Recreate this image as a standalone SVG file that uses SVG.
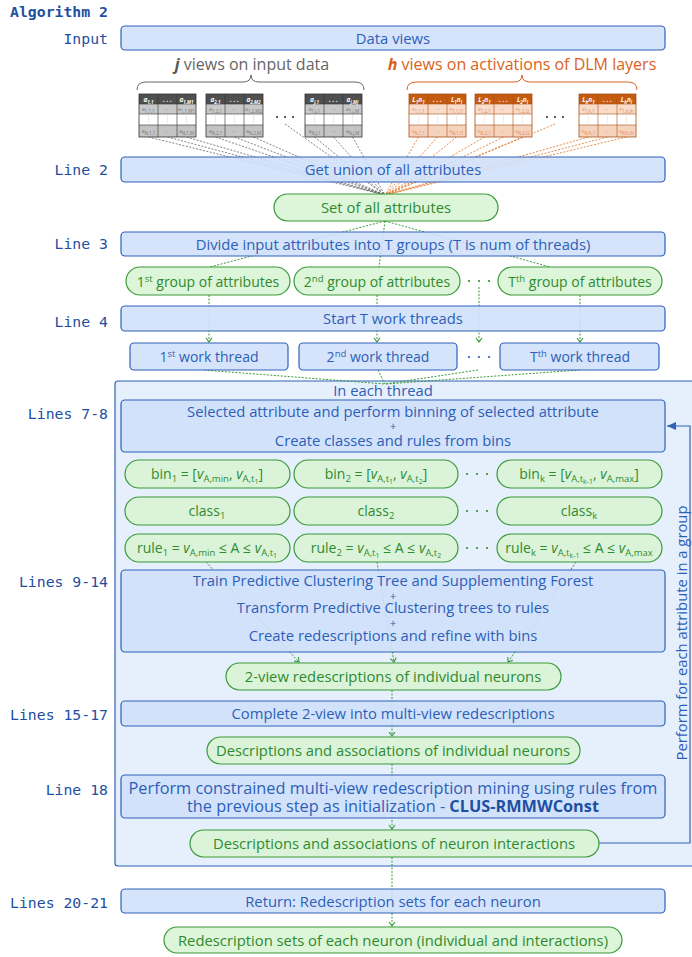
<svg xmlns="http://www.w3.org/2000/svg" width="692" height="957" viewBox="0 0 692 957">
<style>
.lbl{font-family:"DejaVu Sans Mono",monospace;font-size:14.8px;fill:#1f4fa0;text-anchor:end}
.ttl{font-family:"DejaVu Sans Mono",monospace;font-size:14.8px;font-weight:bold;fill:#1f4fa0}
.box{fill:#cfe0fb;fill-opacity:0.88;stroke:#2f62b8;stroke-width:1.2}
.pill{fill:#d9f4d5;fill-opacity:0.9;stroke:#3a9a3a;stroke-width:1.2}
.bt{font-family:"Open Sans",sans-serif;font-size:14.8px;fill:#2d5fb8;text-anchor:middle}
.gt{font-family:"Open Sans",sans-serif;font-size:14.8px;fill:#2e8b2e;text-anchor:middle}
.gs{font-size:14px}
.pl{font-size:11.5px}
.big{font-size:16.3px}
.gl{stroke:#3a9a3a;stroke-width:1;stroke-dasharray:2 1.5;fill:none}
.gyl{stroke:#666;stroke-width:0.8;stroke-dasharray:2 1.5;fill:none}
.orl{stroke:#e07020;stroke-width:0.8;stroke-dasharray:2 1.5;fill:none}
.sb{baseline-shift:-3px;font-size:9.5px}
.sb2{baseline-shift:-2px;font-size:7px}
.sp{baseline-shift:5px;font-size:9.5px}
.it{font-style:italic}
.th{font-family:"Open Sans",sans-serif;font-size:6.5px;font-weight:bold;font-style:italic;fill:#fff;text-anchor:middle}
.tc{font-family:"Open Sans",sans-serif;font-size:5px;fill:#777;text-anchor:middle}
.tco{font-family:"Open Sans",sans-serif;font-size:5px;fill:#e08a5a;text-anchor:middle}
.ts{font-size:4.5px;baseline-shift:-1.5px}
.dot{fill:#333}
.gdot{fill:#2e8b2e}
</style>
<defs>
<marker id="ga" markerWidth="8" markerHeight="8" refX="5" refY="3.5" orient="auto" markerUnits="userSpaceOnUse" viewBox="0 0 8 7">
<path d="M1,0.5 L5,3.5 L1,6.5" fill="none" stroke="#3a9a3a" stroke-width="1.1"/>
</marker>
<marker id="ba" markerWidth="10" markerHeight="10" refX="9" refY="5" orient="auto" markerUnits="userSpaceOnUse" viewBox="0 0 10 10">
<path d="M0,1 L9,5 L0,9 Z" fill="#2f62b8"/>
</marker>
<g id="jgrid">
<rect x="0" y="0" width="57" height="10" fill="#4f4f4f"/>
<rect x="0" y="10" width="57" height="10" fill="#c8c8c8"/>
<rect x="0" y="20" width="57" height="11" fill="#ffffff"/>
<rect x="0" y="31" width="57" height="12" fill="#c4c4c4"/>
<path d="M19,0V43M38,0V43M0,10H57M0,20H57M0,31H57" stroke="#333" stroke-width="0.6"/>
<rect x="0" y="0" width="57" height="43" fill="none" stroke="#333" stroke-width="0.8"/>
<path d="M9.5,22V30M28.5,22V30M47.5,22V30" stroke="#999" stroke-width="0.6" stroke-dasharray="0.8 1.8"/>
<text x="28.5" y="7.5" class="th">. . .</text>
<text x="28.5" y="17" class="tc">···</text>
<text x="28.5" y="39" class="tc">···</text>
</g>
<g id="hgrid">
<rect x="0" y="0" width="57" height="10" fill="#c55a11"/>
<rect x="0" y="10" width="57" height="10" fill="#f9dcc9"/>
<rect x="0" y="20" width="57" height="11" fill="#ffffff"/>
<rect x="0" y="31" width="57" height="12" fill="#f6d3bd"/>
<path d="M19,0V43M38,0V43M0,10H57M0,20H57M0,31H57" stroke="#a8521a" stroke-width="0.6"/>
<rect x="0" y="0" width="57" height="43" fill="none" stroke="#a8521a" stroke-width="0.8"/>
<path d="M9.5,22V30M28.5,22V30M47.5,22V30" stroke="#d9a080" stroke-width="0.6" stroke-dasharray="0.8 1.8"/>
<text x="28.5" y="7.5" class="th">. . .</text>
<text x="28.5" y="17" class="tco">···</text>
<text x="28.5" y="39" class="tco">···</text>
</g>
</defs>

<g id="labels">
<text x="10" y="17" class="ttl">Algorithm 2</text>
<text x="108" y="44" class="lbl">Input</text>
<text x="108" y="175" class="lbl">Line 2</text>
<text x="108" y="249" class="lbl">Line 3</text>
<text x="108" y="327" class="lbl">Line 4</text>
<text x="108" y="419" class="lbl">Lines 7-8</text>
<text x="108" y="587" class="lbl">Lines 9-14</text>
<text x="108" y="720" class="lbl">Lines 15-17</text>
<text x="108" y="795" class="lbl">Line 18</text>
<text x="108" y="908" class="lbl">Lines 20-21</text>
</g>

<g id="thread-container">
<rect x="115" y="381" width="600" height="485" rx="3" fill="#e6effc" stroke="#2f62b8" stroke-width="1.2"/>
<text x="383" y="396" class="bt">In each thread</text>
</g>

<g id="connectors">
<path class="gyl" d="M148.5,137L385,195M167.5,137L385,195M186.5,137L385,195M215.5,137L385,195M234.5,137L385,195M253.5,137L385,195M285,124L385,195M314.5,137L385,195M333.5,137L385,195M352.5,137L385,195"/>
<path class="orl" d="M418.5,137L385,195M437.5,137L385,195M456.5,137L385,195M484.5,137L385,195M503.5,137L385,195M522.5,137L385,195M555,124L385,195M588.5,137L385,195M607.5,137L385,195M626.5,137L385,195"/>
<path class="gl" d="M385,221L210,267M385,221L379,267M385,221L550,267"/>
<path class="gl" d="M209,295V342" marker-end="url(#ga)"/>
<path class="gl" d="M377,295V342" marker-end="url(#ga)"/>
<path class="gl" d="M479,287V342" marker-end="url(#ga)"/>
<path class="gl" d="M580,295V342" marker-end="url(#ga)"/>
<path class="gl" d="M204,370L385,384M378,370L385,384M478,370L385,384M580,370L385,384"/>
<path class="gl" d="M206,562L299,662" marker-end="url(#ga)"/>
<path class="gl" d="M377,562L394,662" marker-end="url(#ga)"/>
<path class="gl" d="M576,562L508,662" marker-end="url(#ga)"/>
<path class="gl" d="M392,690V736" marker-end="url(#ga)"/>
<path class="gl" d="M392,764V829" marker-end="url(#ga)"/>
<path class="gl" d="M392,857V926" marker-end="url(#ga)"/>
<path d="M599,843H690V426H667" fill="none" stroke="#2f62b8" stroke-width="1.2" marker-end="url(#ba)"/>
</g>

<g id="n-data-views">
<rect class="box" x="121" y="26" width="544" height="24" rx="4"/>
<text x="393" y="43.5" class="bt">Data views</text>
</g>

<g id="n-input-tables">
<path d="M137,90 Q137,82 146,82 L243,82 Q251,82 251,75 Q251,82 259,82 L355,82 Q364,82 364,90" fill="none" stroke="#666" stroke-width="1"/>
<text x="252" y="70" font-family="Open Sans,sans-serif" font-size="16" fill="#666" text-anchor="middle"><tspan font-weight="bold" font-style="italic" fill="#555">j</tspan> views on input data</text>
<use href="#jgrid" x="139" y="94"/>
<use href="#jgrid" x="206" y="94"/>
<use href="#jgrid" x="305" y="94"/>
<text x="148.5" y="101.5" class="th">a<tspan class="ts">1,1</tspan></text>
<text x="186.5" y="101.5" class="th">a<tspan class="ts">1,M1</tspan></text>
<text x="148.5" y="111" class="tc">a<tspan class="ts">1,1,1</tspan></text>
<text x="186.5" y="111" class="tc">a<tspan class="ts">1,1,M1</tspan></text>
<text x="148.5" y="133" class="tc">a<tspan class="ts">N,1,1</tspan></text>
<text x="186.5" y="133" class="tc">a<tspan class="ts">N,1,M</tspan></text>
<text x="215.5" y="101.5" class="th">a<tspan class="ts">2,1</tspan></text>
<text x="253.5" y="101.5" class="th">a<tspan class="ts">2,M2</tspan></text>
<text x="215.5" y="111" class="tc">a<tspan class="ts">1,2,1</tspan></text>
<text x="253.5" y="111" class="tc">a<tspan class="ts">1,2,M2</tspan></text>
<text x="215.5" y="133" class="tc">a<tspan class="ts">N,2,1</tspan></text>
<text x="253.5" y="133" class="tc">a<tspan class="ts">N,2,M</tspan></text>
<text x="314.5" y="101.5" class="th">a<tspan class="ts">j,1</tspan></text>
<text x="352.5" y="101.5" class="th">a<tspan class="ts">j,Mj</tspan></text>
<text x="314.5" y="111" class="tc">a<tspan class="ts">1,j,1</tspan></text>
<text x="352.5" y="111" class="tc">a<tspan class="ts">1,j,M</tspan></text>
<text x="314.5" y="133" class="tc">a<tspan class="ts">N,j,1</tspan></text>
<text x="352.5" y="133" class="tc">a<tspan class="ts">N,j,M</tspan></text>
<circle class="dot" cx="277" cy="117" r="1.1"/><circle class="dot" cx="285" cy="117" r="1.1"/><circle class="dot" cx="293" cy="117" r="1.1"/>
</g>

<g id="n-activation-tables">
<path d="M407,90 Q407,82 416,82 L514,82 Q522,82 522,75 Q522,82 530,82 L628,82 Q637,82 637,90" fill="none" stroke="#d9621a" stroke-width="1"/>
<text x="522" y="70" font-family="Open Sans,sans-serif" font-size="16" fill="#d9621a" text-anchor="middle"><tspan font-weight="bold" font-style="italic">h</tspan> views on activations of DLM layers</text>
<use href="#hgrid" x="409" y="94"/>
<use href="#hgrid" x="475" y="94"/>
<use href="#hgrid" x="579" y="94"/>
<text x="418.5" y="101.5" class="th">L<tspan class="ts">1</tspan>n<tspan class="ts">1</tspan></text>
<text x="456.5" y="101.5" class="th">L<tspan class="ts">1</tspan>n<tspan class="ts">l</tspan></text>
<text x="418.5" y="111" class="tco">v<tspan class="ts">1,1,1</tspan></text>
<text x="456.5" y="111" class="tco">v<tspan class="ts">1,1,l1</tspan></text>
<text x="418.5" y="133" class="tco">v<tspan class="ts">N,1,1</tspan></text>
<text x="456.5" y="133" class="tco">v<tspan class="ts">N,1,l1</tspan></text>
<text x="484.5" y="101.5" class="th">L<tspan class="ts">2</tspan>n<tspan class="ts">1</tspan></text>
<text x="522.5" y="101.5" class="th">L<tspan class="ts">2</tspan>n<tspan class="ts">l</tspan></text>
<text x="484.5" y="111" class="tco">v<tspan class="ts">1,2,1</tspan></text>
<text x="522.5" y="111" class="tco">v<tspan class="ts">1,2,l2</tspan></text>
<text x="484.5" y="133" class="tco">v<tspan class="ts">N,2,1</tspan></text>
<text x="522.5" y="133" class="tco">v<tspan class="ts">N,2,l2</tspan></text>
<text x="588.5" y="101.5" class="th">L<tspan class="ts">h</tspan>n<tspan class="ts">1</tspan></text>
<text x="626.5" y="101.5" class="th">L<tspan class="ts">h</tspan>n<tspan class="ts">l</tspan></text>
<text x="588.5" y="111" class="tco">v<tspan class="ts">1,h,1</tspan></text>
<text x="626.5" y="111" class="tco">v<tspan class="ts">1,h,lh</tspan></text>
<text x="588.5" y="133" class="tco">v<tspan class="ts">N,h,1</tspan></text>
<text x="626.5" y="133" class="tco">v<tspan class="ts">N,h,lh</tspan></text>
<circle class="dot" cx="547" cy="117" r="1.1"/><circle class="dot" cx="555" cy="117" r="1.1"/><circle class="dot" cx="563" cy="117" r="1.1"/>
</g>

<g id="n-union">
<rect class="box" x="121" y="157" width="544" height="25" rx="4"/>
<text x="393" y="175" class="bt">Get union of all attributes</text>
</g>
<g id="n-set-all">
<rect class="pill" x="274" y="194" width="224" height="27" rx="13.5"/>
<text x="386" y="213" class="gt">Set of all attributes</text>
</g>
<g id="n-divide">
<rect class="box" x="121" y="232" width="544" height="24" rx="4"/>
<text x="393" y="249.5" class="bt">Divide input attributes into T groups (T is num of threads)</text>
</g>
<g id="n-group1">
<rect class="pill" x="126" y="267" width="164" height="28" rx="14"/>
<text x="208" y="286.5" class="gt gs">1<tspan class="sp">st</tspan> group of attributes</text>
</g>
<g id="n-group2">
<rect class="pill" x="294" y="267" width="166" height="28" rx="14"/>
<text x="377" y="286.5" class="gt gs">2<tspan class="sp">nd</tspan> group of attributes</text>
</g>
<g id="n-groupT">
<rect class="pill" x="498" y="267" width="164" height="28" rx="14"/>
<text x="580" y="286.5" class="gt gs">T<tspan class="sp">th</tspan> group of attributes</text>
</g>
<g id="dots-groups"><circle class="gdot" cx="469" cy="281" r="1.1"/><circle class="gdot" cx="479" cy="281" r="1.1"/><circle class="gdot" cx="489" cy="281" r="1.1"/></g>

<g id="n-start">
<rect class="box" x="121" y="306" width="544" height="25" rx="4"/>
<text x="393" y="324" class="bt">Start T work threads</text>
</g>
<g id="n-thread1">
<rect class="box" x="130" y="343" width="158" height="27" rx="4"/>
<text x="209" y="362" class="bt gs">1<tspan class="sp">st</tspan> work thread</text>
</g>
<g id="n-thread2">
<rect class="box" x="299" y="343" width="158" height="27" rx="4"/>
<text x="378" y="362" class="bt gs">2<tspan class="sp">nd</tspan> work thread</text>
</g>
<g id="n-threadT">
<rect class="box" x="500" y="343" width="159" height="27" rx="4"/>
<text x="580" y="362" class="bt gs">T<tspan class="sp">th</tspan> work thread</text>
</g>
<g id="dots-threads"><circle fill="#2d5fb8" cx="469" cy="357" r="1.1"/><circle fill="#2d5fb8" cx="479" cy="357" r="1.1"/><circle fill="#2d5fb8" cx="489" cy="357" r="1.1"/></g>

<g id="n-select">
<rect class="box" x="121" y="400" width="544" height="52" rx="4"/>
<text class="bt"><tspan x="393" y="416.5">Selected attribute and perform binning of selected attribute</tspan><tspan x="393" y="429.5" class="pl">+</tspan><tspan x="393" y="446">Create classes and rules from bins</tspan></text>
</g>

<g id="n-bin1">
<rect class="pill" x="125" y="460" width="165" height="28" rx="14"/>
<text x="207" y="479" class="gt gs">bin<tspan class="sb">1</tspan> = [<tspan class="it">v</tspan><tspan class="sb">A,min</tspan>, <tspan class="it">v</tspan><tspan class="sb">A,t<tspan class="sb2">1</tspan></tspan>]</text>
</g>
<g id="n-bin2">
<rect class="pill" x="294" y="460" width="164" height="28" rx="14"/>
<text x="376" y="479" class="gt gs">bin<tspan class="sb">2</tspan> = [<tspan class="it">v</tspan><tspan class="sb">A,t<tspan class="sb2">1</tspan></tspan>, <tspan class="it">v</tspan><tspan class="sb">A,t<tspan class="sb2">2</tspan></tspan>]</text>
</g>
<g id="n-bink">
<rect class="pill" x="497" y="460" width="165" height="28" rx="14"/>
<text x="579" y="479" class="gt gs">bin<tspan class="sb">k</tspan> = [<tspan class="it">v</tspan><tspan class="sb">A,t<tspan class="sb2">k-1</tspan></tspan>, <tspan class="it">v</tspan><tspan class="sb">A,max</tspan>]</text>
</g>
<g id="dots-bins"><circle class="gdot" cx="467" cy="474" r="1.1"/><circle class="gdot" cx="477" cy="474" r="1.1"/><circle class="gdot" cx="487" cy="474" r="1.1"/></g>

<g id="n-class1">
<rect class="pill" x="125" y="497" width="165" height="28" rx="14"/>
<text x="207" y="516" class="gt gs">class<tspan class="sb">1</tspan></text>
</g>
<g id="n-class2">
<rect class="pill" x="294" y="497" width="164" height="28" rx="14"/>
<text x="376" y="516" class="gt gs">class<tspan class="sb">2</tspan></text>
</g>
<g id="n-classk">
<rect class="pill" x="497" y="497" width="165" height="28" rx="14"/>
<text x="579" y="516" class="gt gs">class<tspan class="sb">k</tspan></text>
</g>
<g id="dots-classes"><circle class="gdot" cx="467" cy="511" r="1.1"/><circle class="gdot" cx="477" cy="511" r="1.1"/><circle class="gdot" cx="487" cy="511" r="1.1"/></g>

<g id="n-rule1">
<rect class="pill" x="125" y="534" width="165" height="28" rx="14"/>
<text x="207" y="553" class="gt gs">rule<tspan class="sb">1</tspan> = <tspan class="it">v</tspan><tspan class="sb">A,min</tspan> ≤ A ≤ <tspan class="it">v</tspan><tspan class="sb">A,t<tspan class="sb2">1</tspan></tspan></text>
</g>
<g id="n-rule2">
<rect class="pill" x="294" y="534" width="164" height="28" rx="14"/>
<text x="376" y="553" class="gt gs">rule<tspan class="sb">2</tspan> = <tspan class="it">v</tspan><tspan class="sb">A,t<tspan class="sb2">1</tspan></tspan> ≤ A ≤ <tspan class="it">v</tspan><tspan class="sb">A,t<tspan class="sb2">2</tspan></tspan></text>
</g>
<g id="n-rulek">
<rect class="pill" x="497" y="534" width="165" height="28" rx="14"/>
<text x="579" y="553" class="gt gs">rule<tspan class="sb">k</tspan> = <tspan class="it">v</tspan><tspan class="sb">A,t<tspan class="sb2">k-1</tspan></tspan> ≤ A ≤ <tspan class="it">v</tspan><tspan class="sb">A,max</tspan></text>
</g>
<g id="dots-rules"><circle class="gdot" cx="467" cy="548" r="1.1"/><circle class="gdot" cx="477" cy="548" r="1.1"/><circle class="gdot" cx="487" cy="548" r="1.1"/></g>

<g id="n-train">
<rect class="box" x="121" y="570" width="544" height="82" rx="4"/>
<text class="bt"><tspan x="393" y="586">Train Predictive Clustering Tree and Supplementing Forest</tspan><tspan x="393" y="599.5" class="pl">+</tspan><tspan x="393" y="613">Transform Predictive Clustering trees to rules</tspan><tspan x="393" y="626.5" class="pl">+</tspan><tspan x="393" y="641">Create redescriptions and refine with bins</tspan></text>
</g>
<g id="n-2view">
<rect class="pill" x="226" y="663" width="335" height="27" rx="13.5"/>
<text x="393" y="682" class="gt">2-view redescriptions of individual neurons</text>
</g>
<g id="n-complete">
<rect class="box" x="121" y="701" width="544" height="25" rx="4"/>
<text x="393" y="719" class="bt">Complete 2-view into multi-view redescriptions</text>
</g>
<g id="n-desc-ind">
<rect class="pill" x="207" y="737" width="373" height="27" rx="13.5"/>
<text x="393" y="756" class="gt">Descriptions and associations of individual neurons</text>
</g>
<g id="n-perform">
<rect class="box" x="121" y="775" width="544" height="43" rx="4"/>
<text class="bt big"><tspan x="393" y="794">Perform constrained multi-view redescription mining using rules from</tspan><tspan x="393" y="812">the previous step as initialization - <tspan font-weight="bold" fill="#1f4fa0">CLUS-RMMWConst</tspan></tspan></text>
</g>
<g id="n-desc-int">
<rect class="pill" x="190" y="830" width="409" height="27" rx="13.5"/>
<text x="394" y="849" class="gt">Descriptions and associations of neuron interactions</text>
</g>
<g id="loop-label">
<text x="687" y="633" class="bt" transform="rotate(-90 687 633)">Perform for each attribute in a group</text>
</g>
<g id="n-return">
<rect class="box" x="121" y="889" width="544" height="24" rx="4"/>
<text x="393" y="906.5" class="bt">Return: Redescription sets for each neuron</text>
</g>
<g id="n-final">
<rect class="pill" x="164" y="927" width="458" height="26" rx="13"/>
<text x="393" y="945.5" class="gt">Redescription sets of each neuron (individual and interactions)</text>
</g>
</svg>
